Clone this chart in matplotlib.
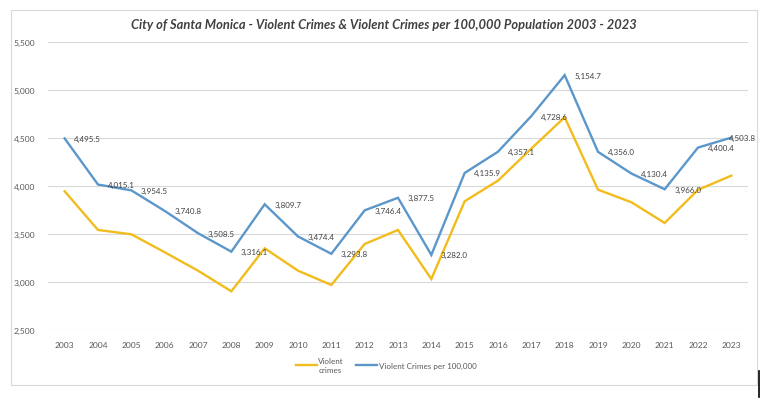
import matplotlib
matplotlib.use("Agg")
import matplotlib.pyplot as plt
from matplotlib.patches import Rectangle
from matplotlib.lines import Line2D

years = [str(y) for y in range(2003, 2024)]
violent_crimes = [3945, 3542, 3497, 3310, 3118, 2903, 3351, 3118, 2969, 3396, 3542,
                  3031, 3841, 4056, 4390, 4716, 3962, 3831, 3615, 3960, 4108]
per_100k = [4495.5, 4015.1, 3954.5, 3740.8, 3508.5, 3316.1, 3809.7, 3474.4, 3293.8,
            3746.4, 3877.5, 3282.0, 4135.9, 4357.1, 4728.6, 5154.7, 4356.0, 4130.4,
            3966.0, 4400.4, 4503.8]
y_ticks = [2500, 3000, 3500, 4000, 4500, 5000, 5500]
title = "City of Santa Monica - Violent Crimes & Violent Crimes per 100,000 Population 2003 - 2023"

W, H = 768, 402
fig = plt.figure(figsize=(W / 100, H / 100), dpi=100)
fig.patch.set_facecolor("white")

# outer chart border
fig.add_artist(Rectangle((11 / W, 1 - 386 / H), (757 - 11) / W, (386 - 11) / H,
                         transform=fig.transFigure, fill=False, edgecolor="#D9D9D9", lw=0.8))
# cursor artifact
fig.add_artist(Line2D([758.5 / W, 758.5 / W], [1 - 398 / H, 1 - 372 / H],
                      transform=fig.transFigure, color="black", lw=1.2))

ax = fig.add_axes([48 / W, 1 - 331 / H, (748 - 48) / W, (331 - 43) / H])
x = list(range(len(years)))
yellow = "#F2BC1C"
blue = "#5B97CB"
ax.plot(x, violent_crimes, color=yellow, lw=1.7, label="Violent\ncrimes", solid_joinstyle="miter")
ax.plot(x, per_100k, color=blue, lw=1.7, label="Violent Crimes per 100,000", solid_joinstyle="miter")

n = len(x)
for i, (xi, v) in enumerate(zip(x, per_100k)):
    dx = 7 if i < n - 1 else -1.5
    ax.annotate(f"{v:,.1f}", (xi, v), xytext=(dx, 0), textcoords="offset points",
                ha="left", va="center", fontsize=5.8, color="#404040", family="Lato")

ax.set_xlim(-0.5, n - 0.5)
ax.set_ylim(2500, 5500)
ax.set_yticks(y_ticks)
ax.set_yticklabels([f"{t:,}" for t in y_ticks])
ax.set_xticks(x)
ax.set_xticklabels(years)
ax.grid(axis="y", color="#D9D9D9", lw=0.8)
ax.set_axisbelow(True)
for s in ax.spines.values():
    s.set_visible(False)
ax.tick_params(length=0, labelsize=6.1, labelcolor="#595959", pad=9)
for lab in ax.get_xticklabels() + ax.get_yticklabels():
    lab.set_family("Lato")
ax.tick_params(axis="x", pad=8)

fig.text(384 / W, 1 - 25 / H, title, ha="center", va="center", fontsize=9.3,
         fontweight="bold", fontstyle="italic", color="#404040", family="Lato")

leg = fig.legend(loc="center", bbox_to_anchor=(386 / W, 1 - 366 / H), ncol=2, frameon=False,
                 handlelength=2.6, handletextpad=0.2, columnspacing=1.5,
                 prop={"family": "Lato", "size": 5.8})
for t in leg.get_texts():
    t.set_color("#595959")

fig.savefig("out.png", dpi=100)
